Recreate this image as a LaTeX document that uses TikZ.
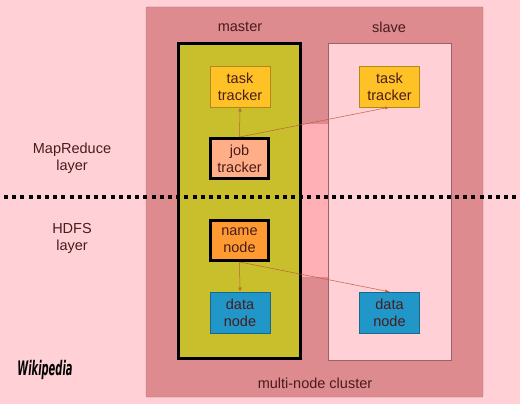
\documentclass[tikz,border=0pt]{standalone}
\usepackage{fontspec}
\setmainfont{Liberation Sans}
\newfontfamily\wikifont{DejaVu Sans Condensed}
\usetikzlibrary{arrows}
\usepackage{xcolor}
\definecolor{bgpink}{HTML}{FFD0D5}
\definecolor{clusterpink}{HTML}{DD8B8F}
\definecolor{gappink}{HTML}{FFB0B6}
\definecolor{masterolive}{HTML}{C9BE2B}
\definecolor{taskgold}{HTML}{FFC226}
\definecolor{jobsalmon}{HTML}{FFAE88}
\definecolor{nameorange}{HTML}{FF9A33}
\definecolor{datablue}{HTML}{2196C8}
\definecolor{textmaroon}{HTML}{4A1C1C}
\definecolor{linkbrown}{HTML}{B8643C}

\begin{document}
\begin{tikzpicture}[x=1pt,y=-1pt,
		every node/.style={text=textmaroon,font=\fontsize{14.5}{17}\selectfont,align=center},
		comp/.style={draw=#1!70!black,minimum width=60pt,minimum height=41pt,inner sep=0pt},
		heavy/.style={draw=black,line width=3pt,minimum width=58pt,minimum height=40pt,inner sep=0pt},
		link/.style={draw=linkbrown,line width=0.5pt,-latex}]
	\useasboundingbox (0,0) rectangle (520,404);
	\fill[bgpink] (0,0) rectangle (520,404);		% background
	\node[fill=clusterpink,draw=clusterpink!85!black,rounded corners=1pt,minimum width=337pt,minimum height=390pt] (cluster) at (314.5,202) {};
	\fill[gappink] (302,124) rectangle (328,277);	% lighter band
	\node[fill=masterolive,draw=black,line width=3pt,minimum width=122pt,minimum height=315pt] (master) at (239.5,201) {};
	\node[fill=bgpink,draw=clusterpink!70!black,line width=0.6pt,minimum width=123pt,minimum height=317pt] (slave) at (389.5,201.5) {};
	\node (masterlbl) at (240,27) {master};
	\node (slavelbl) at (389,27) {slave};
	\node (clusterlbl) at (315,383) {multi-node cluster};

	% MapReduce layer
	\node[comp=taskgold,fill=taskgold] (tt1) at (240,86.5) {task\\tracker};
	\node[comp=taskgold,fill=taskgold] (tt2) at (389.5,86.5) {task\\tracker};
	\node[heavy,fill=jobsalmon] (jt) at (239.5,158.5) {job\\tracker};

	% HDFS layer
	\node[heavy,fill=nameorange] (nn) at (239.5,240.5) {name\\node};
	\node[comp=datablue,fill=datablue] (dn1) at (240,312.5) {data\\node};
	\node[comp=datablue,fill=datablue] (dn2) at (389.5,312.5) {data\\node};

	\draw[link] (jt.north) -- (tt1.south);
	\draw[link] (jt.north) -- (tt2.south);
	\draw[link] (nn.south) -- (dn1.north);
	\draw[link] (nn.south) -- (dn2.north);

	% layer labels
	\node (mrlbl) at (72,158) {MapReduce\\layer};
	\node (hdfslbl) at (72,238) {HDFS\\layer};
	\coordinate (sepl) at (4,197);
	\coordinate (sepr) at (520,197);
	\draw[line width=4pt,dash pattern=on 4pt off 4.2pt] (sepl) -- (sepr);		% layer separator
	\node[font=\wikifont\bfseries\itshape\fontsize{20}{20}\selectfont,text=black] (wiki) at (45,370) {\scalebox{0.55}[1]{Wikipedia}};
\end{tikzpicture}
\end{document}
